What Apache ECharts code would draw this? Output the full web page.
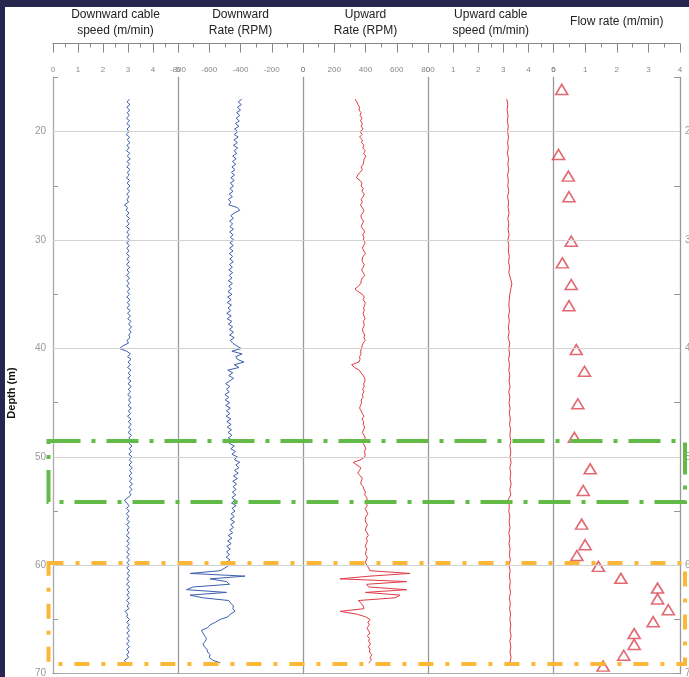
<!DOCTYPE html>
<html><head><meta charset="utf-8">
<script src="https://cdn.jsdelivr.net/npm/echarts/dist/echarts.min.js"></script>
<style>
html,body{margin:0;padding:0;background:#26264f;width:689px;height:677px;overflow:hidden}
#c{position:absolute;left:5px;top:7px;width:684px;height:670px;background:#fff}
</style></head><body><div id="c"></div>
<script>
// ---------------- DATA ----------------
const trackTitles = [["Downward cable","speed (m/min)"],["Downward","Rate (RPM)"],["Upward","Rate (RPM)"],["Upward cable","speed (m/min)"],["Flow rate (m/min)"]];
const trackMin  = [0, -800, 0, 0, 0];
const trackMax  = [5, 0, 800, 5, 4];
const trackStep = [1, 200, 200, 1, 1];
const depthLabelStep = 10;
const gridDepths = [20, 30, 40, 50, 60];

const depthFine = [
17,17.25,17.5,17.75,18,18.25,18.5,18.75,
19,19.25,19.5,19.75,20,20.25,20.5,20.75,
21,21.25,21.5,21.75,22,22.25,22.5,22.75,
23,23.25,23.5,23.75,24,24.25,24.5,24.75,
25,25.25,25.5,25.75,26,26.25,26.5,26.75,
27,27.25,27.5,27.75,28,28.25,28.5,28.75,
29,29.25,29.5,29.75,30,30.25,30.5,30.75,
31,31.25,31.5,31.75,32,32.25,32.5,32.75,
33,33.25,33.5,33.75,34,34.25,34.5,34.75,
35,35.25,35.5,35.75,36,36.25,36.5,36.75,
37,37.25,37.5,37.75,38,38.25,38.5,38.75,
39,39.25,39.5,39.75,40,40.25,40.5,40.75,
41,41.25,41.5,41.75,42,42.25,42.5,42.75,
43,43.25,43.5,43.75,44,44.25,44.5,44.75,
45,45.25,45.5,45.75,46,46.25,46.5,46.75,
47,47.25,47.5,47.75,48,48.25,48.5,48.75,
49,49.25,49.5,49.75,50,50.25,50.5,50.75,
51,51.25,51.5,51.75,52,52.25,52.5,52.75,
53,53.25,53.5,53.75,54,54.25,54.5,54.75,
55,55.25,55.5,55.75,56,56.25,56.5,56.75,
57,57.25,57.5,57.75,58,58.25,58.5,58.75,
59,59.25,59.5,59.75,60,60.25,60.5,60.75,
61,61.25,61.5,61.75,62,62.25,62.5,62.75,
63,63.25,63.5,63.75,64,64.25,64.5,64.75,
65,65.25,65.5,65.75,66,66.25,66.5,66.75,
67,67.25,67.5,67.75,68,68.25,68.5,68.75,
69];

const depthCoarse = [
17,17.5,18,18.5,19,19.5,20,20.5,
21,21.5,22,22.5,23,23.5,24,24.5,
25,25.5,26,26.5,27,27.5,28,28.5,
29,29.5,30,30.5,31,31.5,32,32.5,
33,33.5,34,34.5,35,35.5,36,36.5,
37,37.5,38,38.5,39,39.5,40,40.5,
41,41.5,42,42.5,43,43.5,44,44.5,
45,45.5,46,46.5,47,47.5,48,48.5,
49,49.5,50,50.5,51,51.5,52,52.5,
53,53.5,54,54.5,55,55.5,56,56.5,
57,57.5,58,58.5,59,59.5,60,60.5,
61,61.5,62,62.5,63,63.5,64,64.5,
65,65.5,66,66.5,67,67.5,68,68.5,
69];

// Downward cable speed (m/min), on depthFine
const downCableSpeed = [
3.06,2.96,3.08,2.95,3.07,2.97,3.05,2.94,
3.06,2.95,3.08,2.96,3.04,2.93,3.06,2.97,
3.08,2.96,3.05,2.94,3.07,2.97,3.09,2.96,
3.06,2.95,3.08,2.97,3.05,2.94,3.07,2.96,
3.08,2.97,3.06,2.95,3.04,2.96,3.02,2.86,
2.98,2.93,3.04,2.94,3.06,2.95,3.05,2.93,
3.06,2.95,3.04,2.96,3.07,2.94,3.05,2.96,
3.04,2.93,3.06,2.95,3.05,2.94,3.07,2.96,
3.05,2.94,3.06,2.96,3.04,2.95,3.07,2.97,
3.06,2.95,3.08,2.97,3.06,2.96,3.09,2.98,
3.10,2.99,3.12,3.02,3.14,3.04,3.12,3.03,
3.08,2.96,3.02,2.80,2.66,2.95,3.10,2.98,
3.12,3.00,3.10,2.98,3.12,3.01,3.10,2.99,
3.12,3.00,3.13,3.01,3.10,2.99,3.12,3.02,
3.11,3.00,3.13,3.01,3.10,2.98,3.12,3.01,
3.13,3.02,3.12,3.00,3.14,3.03,3.15,3.04,
3.16,3.05,3.14,3.03,3.16,3.05,3.15,3.04,
3.17,3.06,3.15,3.04,3.16,3.05,3.18,3.06,
3.16,3.05,3.12,3.00,2.86,2.95,3.04,2.94,
3.05,2.93,3.04,2.95,3.06,2.94,3.05,2.96,
3.04,2.93,3.06,2.95,3.05,2.94,3.06,2.95,
3.05,2.94,3.06,2.96,3.05,2.95,3.07,2.96,
3.06,2.95,3.05,2.94,3.07,2.96,3.05,2.95,
3.06,2.94,3.05,2.96,3.04,2.88,2.98,2.95,
3.06,2.95,3.05,2.96,3.07,2.95,3.06,2.96,
3.05,2.94,3.06,2.95,3.04,2.96,3.02,2.86,
2.90];

// Downward rate (RPM), on depthFine
const downRate = [
-392,-415,-395,-420,-400,-425,-405,-428,
-408,-432,-410,-438,-418,-440,-415,-442,
-420,-445,-418,-440,-425,-450,-428,-452,
-430,-455,-435,-458,-438,-462,-440,-465,
-445,-468,-448,-472,-452,-478,-462,-475,
-420,-405,-440,-462,-445,-470,-450,-468,
-445,-470,-448,-465,-442,-468,-446,-470,
-448,-472,-450,-468,-446,-470,-452,-475,
-450,-472,-455,-478,-452,-475,-458,-480,
-455,-482,-460,-485,-458,-480,-462,-488,
-460,-485,-455,-478,-450,-472,-445,-470,
-440,-465,-450,-425,-395,-455,-390,-430,
-420,-378,-440,-410,-482,-450,-475,-445,
-470,-495,-468,-490,-472,-500,-475,-498,
-470,-495,-465,-490,-468,-492,-462,-488,
-460,-485,-458,-480,-455,-478,-450,-472,
-440,-462,-432,-455,-420,-440,-405,-430,
-410,-438,-415,-445,-420,-450,-425,-448,
-428,-452,-430,-455,-432,-458,-428,-455,
-435,-460,-440,-465,-438,-462,-445,-470,
-450,-478,-455,-482,-460,-488,-465,-490,
-470,-492,-468,-488,-475,-500,-531,-723,
-371,-595,-490,-470,-704,-745,-490,-723,
-640,-475,-462,-445,-450,-435,-465,-480,
-531,-560,-595,-610,-650,-640,-630,-618,
-625,-640,-632,-615,-610,-595,-600,-578,
-530];

// Upward rate (RPM), on depthFine
const upRate = [
333,345,352,362,358,372,365,378,
368,380,372,385,365,378,362,380,
375,390,382,398,388,402,392,388,
385,372,380,365,350,342,365,378,
372,385,378,392,385,372,380,368,
378,390,382,370,375,388,380,372,
385,395,382,390,386,398,388,380,
390,400,385,378,380,392,385,375,
385,395,380,372,370,355,333,352,
380,392,385,398,395,388,392,385,
390,398,385,392,388,380,385,395,
390,398,385,378,375,368,372,362,
365,358,311,330,360,372,385,395,
397,388,392,382,390,380,385,372,
375,368,362,372,380,390,378,388,
385,395,388,380,390,398,392,385,
395,402,392,398,395,372,321,345,
370,362,350,368,380,372,370,385,
390,400,395,408,410,402,412,398,
405,415,402,398,400,412,405,398,
410,418,405,412,405,398,408,402,
400,412,405,398,410,420,429,685,
429,237,664,408,420,664,400,621,
589,354,372,385,390,237,343,400,
429,415,425,410,418,428,412,425,
420,432,418,428,425,440,430,438,
420];

// Upward cable speed (m/min), on depthCoarse
const upCableSpeed = [
3.14,3.18,3.15,3.19,3.16,3.20,3.17,3.21,
3.17,3.20,3.16,3.21,3.18,3.22,3.17,3.20,
3.18,3.22,3.17,3.21,3.19,3.23,3.18,3.22,
3.19,3.23,3.18,3.22,3.20,3.24,3.21,3.25,
3.22,3.28,3.34,3.30,3.26,3.24,3.22,3.25,
3.21,3.24,3.20,3.23,3.19,3.26,3.22,3.25,
3.21,3.25,3.22,3.26,3.23,3.27,3.22,3.26,
3.23,3.27,3.24,3.28,3.25,3.29,3.26,3.30,
3.26,3.30,3.27,3.31,3.26,3.30,3.27,3.31,
3.26,3.30,3.18,3.24,3.22,3.26,3.23,3.27,
3.22,3.26,3.23,3.27,3.24,3.28,3.23,3.27,
3.24,3.28,3.25,3.29,3.24,3.28,3.25,3.29,
3.26,3.30,3.27,3.31,3.26,3.30,3.27,3.31,
3.26];

// Flow rate (m/min) measurements
const flowDepth = [16.1,22.1,24.1,26.0,30.1,32.1,34.1,36.05,40.1,42.1,45.1,48.2,51.1,53.1,56.2,58.1,59.1,60.1,61.2,62.1,63.1,64.1,65.2,66.3,67.3,68.3,69.3];
const flowRate  = [0.26,0.16,0.47,0.49,0.56,0.28,0.56,0.49,0.72,0.98,0.77,0.66,1.16,0.94,0.89,1.0,0.74,1.42,2.13,3.29,3.29,3.63,3.15,2.55,2.55,2.22,1.57];

// Highlighted depth intervals [top, bottom]
const greenZone  = [48.53, 54.16];
const orangeZone = [59.79, 69.1];

// ---------------- CHART ----------------
const FONT = 'Liberation Sans, Arial, sans-serif';
const chart = echarts.init(document.getElementById('c'), null, {renderer:'canvas'});
const gl = [48, 173, 298, 423, 548.5];
const gw = [125, 125, 125, 125.5, 126.5];
const GT = 70.5, GH = 596.2;
const BLUE = '#3d5fae', RED = '#e03a45';

const grids = gl.map((l,i)=>({left:l, top:GT, width:gw[i], height:GH, containLabel:false, outerBoundsMode:'none'}));

const xAxes = [];
for (let i=0;i<5;i++){
  xAxes.push({type:'value', gridIndex:i, position:'top', offset:34,
    min:trackMin[i], max:trackMax[i], interval:trackStep[i],
    axisLine:{show:true, onZero:false, lineStyle:{color:'#888', width:1}},
    axisTick:{show:true, inside:true, length:9, lineStyle:{color:'#888'}},
    minorTick:{show:true, splitNumber:2, length:4, lineStyle:{color:'#888'}},
    axisLabel:{show:true, inside:true, margin:22, fontSize:8, color:'#888', fontFamily:FONT, showMinLabel:true, showMaxLabel:true, hideOverlap:false},
    splitLine:{show:false}});
}
for (let i=0;i<5;i++){
  xAxes.push({type:'value', gridIndex:i, position:'bottom',
    min:trackMin[i], max:trackMax[i], interval:trackStep[i],
    axisLine:{show:true, onZero:false, lineStyle:{color:'#aaa', width:1.2}},
    axisTick:{show:false}, axisLabel:{show:false}, splitLine:{show:false}});
}
const depthFmt = v => (v % depthLabelStep === 0 ? String(v) : '');
const yAxes = [];
for (let i=0;i<5;i++){
  const first = i===0;
  yAxes.push({type:'value', gridIndex:i, inverse:true, min:15, max:70, interval:5, position:'left',
    axisLine:{show:true, onZero:false, lineStyle:{color: first?'#aaa':'#999', width:1.3}},
    axisTick:{show:first, inside:true, length:5, lineStyle:{color:'#999'}},
    axisLabel:{show:first, fontSize:10, color:'#999', margin:7, fontFamily:FONT, formatter:depthFmt},
    splitLine:{show:false}});
}
yAxes.push({type:'value', gridIndex:4, inverse:true, min:15, max:70, interval:5, position:'right',
  axisLine:{show:true, onZero:false, lineStyle:{color:'#999', width:1.3}},
  axisTick:{show:true, inside:true, length:6, lineStyle:{color:'#999'}},
  axisLabel:{show:true, fontSize:10, color:'#999', margin:5, fontFamily:FONT, formatter:depthFmt},
  splitLine:{show:false}});

const gridMark = {silent:true, symbol:['none','none'], label:{show:false}, animation:false,
  lineStyle:{color:'#d2d2d2', type:'solid', width:1}, emphasis:{disabled:true},
  data: gridDepths.map(d=>({yAxis:d}))};

function lineSeries(idx, xs, ds, color){
  return {type:'line', xAxisIndex:idx, yAxisIndex:idx, showSymbol:false, symbol:'none',
    lineStyle:{color, width:1}, itemStyle:{color}, silent:true,
    data: ds.map((d,k)=>[xs[k], d]), markLine: gridMark, z:3};
}

const series = [
  lineSeries(0, downCableSpeed, depthFine, BLUE),
  lineSeries(1, downRate, depthFine, BLUE),
  lineSeries(2, upRate, depthFine, RED),
  lineSeries(3, upCableSpeed, depthCoarse, RED),
  {type:'scatter', xAxisIndex:4, yAxisIndex:4, symbol:'triangle', symbolSize:[12,10],
   itemStyle:{color:'rgba(255,255,255,0)', borderColor:'#d9434f', borderWidth:1.6},
   data: flowDepth.map((d,k)=>[flowRate[k], d]), markLine: gridMark, z:4, silent:true}
];

chart.setOption({animation:false, backgroundColor:'#fff', grid:grids, xAxis:xAxes, yAxis:yAxes, series});

// ---------- annotations & titles ----------
const yp = d => chart.convertToPixel({yAxisIndex:0}, d);
const graphic = [];
trackTitles.forEach((lines,i)=>{
  const cx = gl[i] + gw[i]/2;
  if (lines.length === 2){
    graphic.push({type:'text', x:cx, y:8, style:{text:lines[0], font:'12px '+FONT, fill:'#222', textAlign:'center', textVerticalAlign:'middle'}});
    graphic.push({type:'text', x:cx, y:24, style:{text:lines[1], font:'12px '+FONT, fill:'#222', textAlign:'center', textVerticalAlign:'middle'}});
  } else {
    graphic.push({type:'text', x:cx, y:15, style:{text:lines[0], font:'12px '+FONT, fill:'#222', textAlign:'center', textVerticalAlign:'middle'}});
  }
});
graphic.push({type:'text', x:7, y:386, rotation:Math.PI/2, style:{text:'Depth (m)', font:'bold 11px '+FONT, fill:'#111', textAlign:'center', textVerticalAlign:'middle'}});

function zoneRect(zone, color, dash){
  const y1 = yp(zone[0]), y2 = yp(zone[1]);
  return {type:'rect', z:100, shape:{x:43.5, y:y1, width:636.5, height:y2-y1},
    style:{fill:'none', stroke:color, lineWidth:4, lineDash:dash}};
}
graphic.push(zoneRect(greenZone, '#62ba47', [32,11,4,11]));
graphic.push(zoneRect(orangeZone, '#fbb735', [15,12,4,12]));

chart.setOption({graphic});
</script></body></html>
